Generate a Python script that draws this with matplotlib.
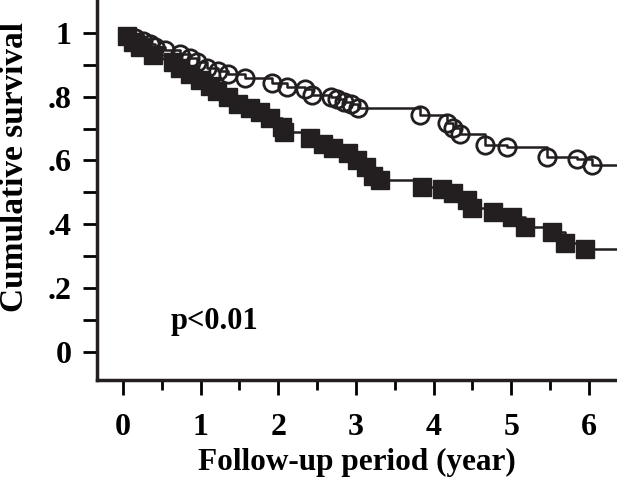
import matplotlib
matplotlib.use("Agg")
import matplotlib.pyplot as plt
import numpy as np

# open circles group
circle_t = [0.15, 0.26, 0.35, 0.41, 0.54, 0.73, 0.86, 0.95, 1.08, 1.22, 1.35, 1.57,
            1.92, 2.11, 2.35, 2.43, 2.68, 2.76, 2.84, 2.93, 3.02,
            3.82, 4.17, 4.25, 4.34, 4.66, 4.94, 5.46, 5.84, 6.04]
circle_s = [0.985, 0.975, 0.965, 0.955, 0.945, 0.935, 0.92, 0.91, 0.89, 0.88, 0.87, 0.86,
            0.843, 0.83, 0.824, 0.806, 0.80, 0.793, 0.784, 0.777, 0.765,
            0.743, 0.718, 0.702, 0.683, 0.649, 0.643, 0.611, 0.605, 0.585]

# filled squares group
square_t = [0.05, 0.13, 0.22, 0.39, 0.64, 0.73, 0.86, 0.99, 1.12, 1.21, 1.35, 1.48,
            1.63, 1.76, 1.89, 2.05, 2.08, 2.41, 2.57, 2.70, 2.90, 3.01, 3.13, 3.22,
            3.31, 3.85, 4.11, 4.25, 4.43, 4.50, 4.76, 5.01, 5.17, 5.52, 5.69, 5.95]
square_s = [0.99, 0.97, 0.955, 0.93, 0.91, 0.89, 0.87, 0.853, 0.834, 0.818, 0.80, 0.777,
            0.765, 0.752, 0.733, 0.705, 0.69, 0.671, 0.652, 0.64, 0.624, 0.60, 0.58, 0.552,
            0.539, 0.517, 0.509, 0.498, 0.476, 0.451, 0.439, 0.423, 0.392, 0.376, 0.342, 0.322]

t_end = 6.36

plt.rcParams['font.family'] = ['Liberation Serif', 'DejaVu Serif']
plt.rcParams['font.weight'] = 'bold'

fig = plt.figure(figsize=(6.17, 4.79), dpi=100)
ax = fig.add_axes([0.157, 0.207, 0.843, 0.793])


def km_line(t, s):
    xs = [0.0] + list(t) + [t_end]
    ys = [1.0] + list(s) + [s[-1]]
    return xs, ys


xs, ys = km_line(circle_t, circle_s)
ax.step(xs, ys, where='post', color='#231f20', lw=1.8)
xs, ys = km_line(square_t, square_s)
ax.step(xs, ys, where='post', color='#231f20', lw=1.8)

ax.plot(circle_t, circle_s, 'o', ms=12.5, mfc='none', mec='#231f20', mew=2, clip_on=False)
ax.plot(square_t, square_s, 's', ms=13.5, mfc='#231f20', mec='#231f20', clip_on=False)

ax.set_xlim(-0.335, t_end)
ax.set_ylim(-0.088, 1.103)

ax.set_xticks(range(7))
ax.set_xticks(np.arange(0.5, 6.0, 1.0), minor=True)
ax.set_yticks([0, 0.2, 0.4, 0.6, 0.8, 1.0])
ax.set_yticklabels(['0', '.2', '.4', '.6', '.8', '1'])
ax.set_yticks(np.arange(0.1, 1.0, 0.2), minor=True)

ax.tick_params(axis='x', which='major', length=11, width=2, pad=13, labelsize=23)
ax.tick_params(axis='x', which='minor', length=7, width=2)
ax.tick_params(axis='y', which='both', length=10, width=2, pad=8, labelsize=23)

for side in ['top', 'right']:
    ax.spines[side].set_visible(False)
for side in ['left', 'bottom']:
    ax.spines[side].set_linewidth(2.5)
    ax.spines[side].set_color('#231f20')

ax.set_xlabel('Follow-up period (year)', fontsize=22.5, fontweight='bold', labelpad=4)
ax.set_ylabel('Cumulative survival', fontsize=24, fontweight='bold')
ax.yaxis.set_label_coords(-0.128, 0.56)

ax.text(0.62, 0.095, 'p<0.01', fontsize=22, fontweight='bold', va='center')

fig.savefig('out.png', dpi=100)
